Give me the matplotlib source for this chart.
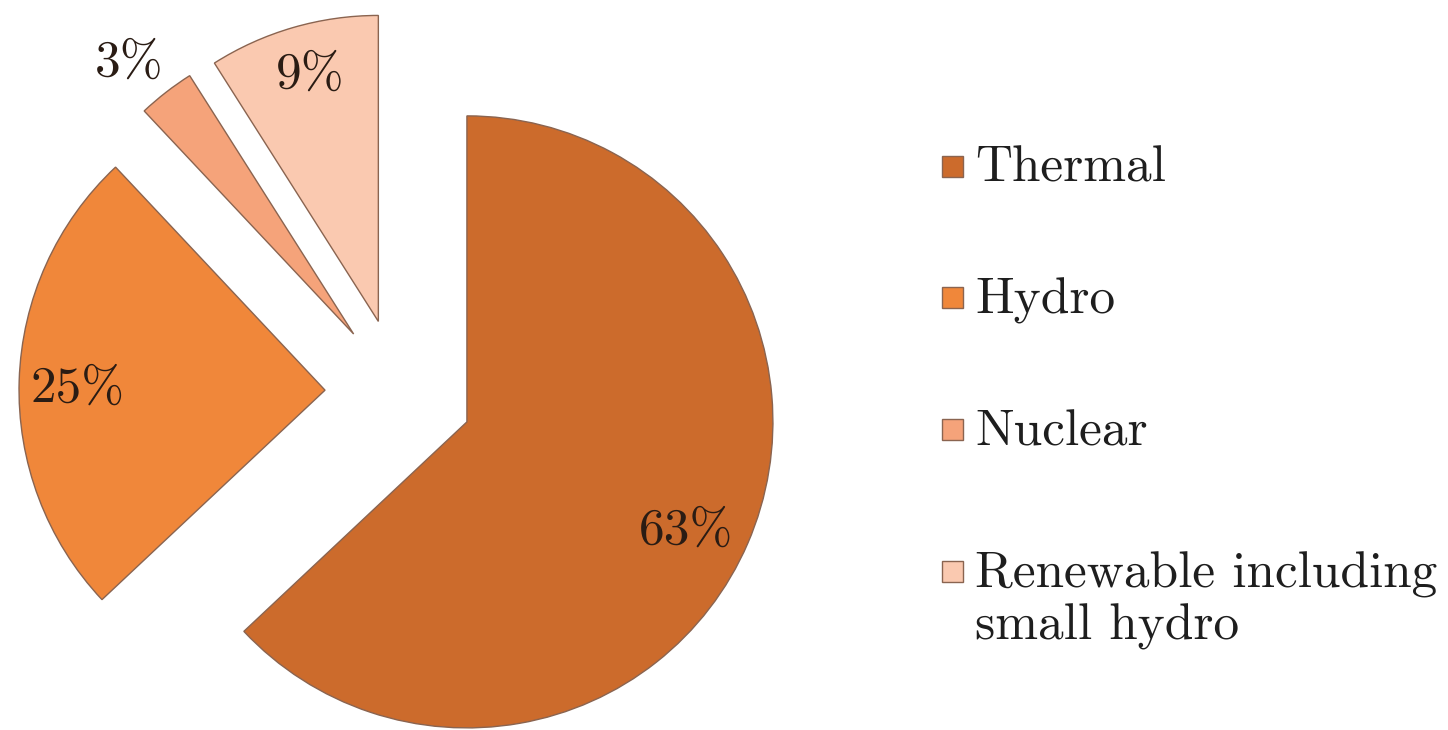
import textwrap
import numpy as np
import matplotlib
matplotlib.use("Agg")
import matplotlib.pyplot as plt
from matplotlib.patches import Rectangle

# Installed generation capacity by source (%)
categories = ["Thermal", "Hydro", "Nuclear", "Renewable including small hydro"]
shares = [63, 25, 3, 9]
colors = ["#CC6B2C", "#F0873A", "#F5A37A", "#FAC9B0"]

plt.rcParams["font.family"] = ["cmr10", "DejaVu Serif"]
plt.rcParams["axes.formatter.use_mathtext"] = True

W, H = 1448, 730
fig = plt.figure(figsize=(W / 100, H / 100), dpi=100)
ax = fig.add_axes([0, 0, 1, 1])

R = 306
center = (399, H - 392.5)
wedges, _ = ax.pie(
    shares,
    colors=colors,
    startangle=90,
    counterclock=False,
    radius=R,
    center=center,
    explode=[74] * len(shares),
    wedgeprops=dict(edgecolor="#8A6450", linewidth=1.0),
)
ax.set_xlim(0, W)
ax.set_ylim(0, H)
ax.set_aspect("equal")
ax.axis("off")

# Percentage labels, placed along each wedge's bisector
label_dist = [0.80, 0.81, 1.15, 0.835]
label_turn = [-3.0, 1.5, 1.8, -0.7]
for w, v, d, t in zip(wedges, shares, label_dist, label_turn):
    th = np.deg2rad((w.theta1 + w.theta2) / 2 + t)
    cx, cy = w.center
    ax.text(cx + d * R * np.cos(th), cy + d * R * np.sin(th), f"{v}%",
            ha="center", va="center", fontsize=37, color="#2A1C14")

# Legend
sq = 21
text_x = 975
baselines = [182, 313, 445, 587]
line_step = 53
for name, col, base in zip(categories, colors, baselines):
    ax.add_patch(Rectangle((942, H - base + 5), sq, sq, facecolor=col,
                           edgecolor="#8A6450", linewidth=1.0))
    for i, line in enumerate(textwrap.wrap(name, 19)):
        ax.text(text_x, H - base - i * line_step, line, ha="left",
                va="baseline", fontsize=37, color="#1E1E1E")

fig.savefig("out.png", dpi=100, facecolor="white")
